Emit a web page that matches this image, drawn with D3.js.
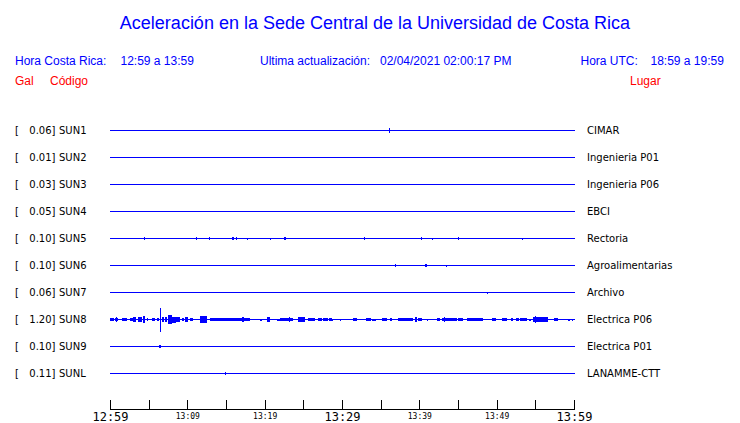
<!DOCTYPE html>
<html>
<head>
<meta charset="utf-8">
<script src="https://cdn.jsdelivr.net/npm/d3@7"></script>
<style>
  html, body { margin: 0; padding: 0; background: #fff; }
  svg { display: block; }
</style>
</head>
<body>
<div id="chart"></div>
<script>
// ---------------- data ----------------
const title = "Aceleración en la Sede Central de la Universidad de Costa Rica";
const horaCR = "12:59 a 13:59";
const actualizacion = "02/04/2021 02:00:17 PM";
const horaUTC = "18:59 a 19:59";

const codes  = ["SUN1","SUN2","SUN3","SUN4","SUN5","SUN6","SUN7","SUN8","SUN9","SUNL"];
const gal    = [0.06, 0.01, 0.03, 0.05, 0.10, 0.10, 0.06, 1.20, 0.10, 0.11];
const places = ["CIMAR","Ingenieria P01","Ingenieria P06","EBCI","Rectoria",
                "Agroalimentarias","Archivo","Electrica P06","Electrica P01","LANAMME-CTT"];

// time axis: minutes after 12:59
const tickMinutes  = [0,5,10,15,20,25,30,35,40,45,50,55,60];
const labelMinutes = [0,10,20,30,40,50,60];
const labelTexts   = ["12:59","13:09","13:19","13:29","13:39","13:49","13:59"];
const majorLabels  = ["12:59","13:29","13:59"];

// signal activity per station: [start min, end min, relative amplitude]
const sun1 = [[36.02,36.14,0.17]];
const sun2 = [];
const sun3 = [];
const sun4 = [];
const sun5 = [[4.40,4.50,0.10],[11.12,11.22,0.10],[12.80,12.90,0.11],[15.77,15.87,0.11],
              [15.95,16.05,0.11],[16.29,16.39,0.11],[17.71,17.81,0.08],[20.70,20.86,0.07],
              [22.50,22.60,0.11],[22.68,22.78,0.11],[32.84,32.94,0.11],[40.21,40.31,0.11],
              [41.63,41.73,0.06],[45.00,45.10,0.09],[53.27,53.37,0.08]];
const sun6 = [[36.85,36.95,0.11],[40.69,40.95,0.11],[43.45,43.55,0.07]];
const sun7 = [[48.71,48.81,0.08]];
const sun8 = [
  [0.00,0.52,0.14],[0.65,1.07,0.11],[0.78,0.84,0.19],[1.51,2.16,0.11],[2.59,2.97,0.14],
  [2.97,3.36,0.19],[3.58,4.09,0.22],[4.22,4.53,0.28],[4.74,4.95,0.11],[5.39,5.82,0.11],
  [6.03,6.38,0.11],[6.47,6.60,1.00],[6.68,6.98,0.22],[7.11,7.33,0.17],[7.54,7.97,0.38],
  [7.97,8.53,0.25],[8.53,9.05,0.18],[9.27,9.57,0.14],[9.70,10.13,0.22],[10.34,10.77,0.14],
  [11.64,12.50,0.28],[12.93,14.22,0.11],[14.22,18.10,0.11],[17.13,17.33,0.17],[19.40,19.61,0.06],
  [20.26,20.69,0.17],[21.55,21.98,0.08],[21.98,23.71,0.11],[23.21,23.34,0.17],[24.35,25.22,0.17],
  [25.64,26.51,0.11],[26.94,27.37,0.11],[27.59,28.23,0.11],[28.36,28.66,0.11],[28.66,28.86,0.06],
  [29.74,29.87,0.06],[31.46,31.98,0.11],[33.10,33.71,0.11],[33.92,34.35,0.08],[35.13,35.78,0.11],
  [36.21,36.51,0.11],[37.28,39.22,0.11],[39.44,39.74,0.22],[39.87,40.30,0.14],[40.95,41.16,0.08],
  [42.25,42.67,0.11],[42.89,43.32,0.14],[43.19,43.28,0.22],[43.32,44.83,0.11],[45.04,45.68,0.11],
  [46.12,48.27,0.11],[49.35,49.87,0.11],[50.65,51.29,0.11],[51.80,52.14,0.11],[52.50,52.89,0.11],
  [53.02,53.88,0.11],[54.22,54.47,0.08],[54.74,55.38,0.22],[54.91,54.99,0.33],[55.38,56.67,0.17],
  [57.41,57.97,0.11],[59.26,59.48,0.08],[59.69,59.90,0.08]
];
const sun9 = [[6.34,6.60,0.11]];
const sunl = [[14.83,14.93,0.10]];
const activity = [sun1,sun2,sun3,sun4,sun5,sun6,sun7,sun8,sun9,sunl];

// ---------------- drawing ----------------
const W = 740, H = 423;
const BLUE = "#0000ff", RED = "#ff0000";
const svg = d3.select("#chart").append("svg").attr("width", W).attr("height", H);

const x = d3.scaleLinear().domain([0, 60]).range([110.5, 574.5]);
const y = d3.scalePoint().domain(codes).range([130.5, 373.5]);
const amp = d3.scaleLinear().domain([0, 1]).range([0, 12]);

const sans = "'Liberation Sans', Arial, Helvetica, sans-serif";
const dv = "'DejaVu Sans', sans-serif";
const mono = "'DejaVu Sans Mono', monospace";

// title
svg.append("text").attr("x", 375).attr("y", 29).attr("text-anchor", "middle")
  .style("font-family", sans).style("font-size", "18px").attr("fill", BLUE).text(title);

// header row
const hdr = [
  [15, "Hora Costa Rica:"], [120.5, horaCR],
  [260, "Ultima actualización:"], [380, actualizacion],
  [580.5, "Hora UTC:"], [650.5, horaUTC]
];
svg.append("g").selectAll("text").data(hdr).join("text")
  .attr("x", d => d[0]).attr("y", 65)
  .style("font-family", sans).style("font-size", "12px").attr("fill", BLUE)
  .text(d => d[1]);

const red = [[15, "Gal"], [50, "Código"], [630, "Lugar"]];
svg.append("g").selectAll("text").data(red).join("text")
  .attr("x", d => d[0]).attr("y", 85)
  .style("font-family", sans).style("font-size", "12px").attr("fill", RED)
  .text(d => d[1]);

// rows
const rows = svg.append("g").selectAll("g").data(codes).join("g")
  .attr("transform", d => `translate(0,${y(d)})`);

rows.append("text").attr("x", 15).attr("y", 3.5)
  .style("font-family", dv).style("font-size", "10px").attr("fill", "#000").text("[");
rows.append("text").attr("x", 55.5).attr("y", 3.5).attr("text-anchor", "end")
  .style("font-family", dv).style("font-size", "10px").attr("fill", "#000")
  .text((d, i) => gal[i].toFixed(2) + "]");
rows.append("text").attr("x", 59).attr("y", 3.5)
  .style("font-family", dv).style("font-size", "10px").attr("fill", "#000").text(d => d);
rows.append("text").attr("x", 587).attr("y", 3.5)
  .style("font-family", dv).style("font-size", "10px").attr("fill", "#000")
  .text((d, i) => places[i]);

rows.append("line").attr("x1", x(0) - 0.5).attr("x2", x(60) + 0.5).attr("y1", 0).attr("y2", 0)
  .attr("stroke", BLUE).attr("stroke-width", 1).attr("shape-rendering", "crispEdges");

rows.each(function(d, i) {
  d3.select(this).selectAll("rect").data(activity[i]).join("rect")
    .attr("x", e => x(e[0]) - 0.5)
    .attr("width", e => Math.max(1, x(e[1]) - x(e[0])))
    .attr("y", e => -Math.max(1, amp(e[2])))
    .attr("height", e => 2 * Math.max(1, amp(e[2])) )
    .attr("fill", BLUE).attr("shape-rendering", "crispEdges");
});

// time axis
const ax = svg.append("g");
ax.append("line").attr("x1", x(0)).attr("x2", x(60)).attr("y1", 409.5).attr("y2", 409.5)
  .attr("stroke", "#000").attr("shape-rendering", "crispEdges");
ax.selectAll("line.tick").data(tickMinutes).join("line").attr("class", "tick")
  .attr("x1", d => x(d)).attr("x2", d => x(d)).attr("y1", 400).attr("y2", 409.5)
  .attr("stroke", "#000").attr("shape-rendering", "crispEdges");
ax.selectAll("text").data(labelMinutes).join("text")
  .attr("x", d => x(d)).attr("text-anchor", "middle")
  .attr("y", (d, i) => majorLabels.includes(labelTexts[i]) ? 420.5 : 418.5)
  .style("font-family", mono)
  .style("font-size", (d, i) => majorLabels.includes(labelTexts[i]) ? "12px" : "8px")
  .attr("fill", "#000")
  .text((d, i) => labelTexts[i]);
</script>
</body>
</html>
